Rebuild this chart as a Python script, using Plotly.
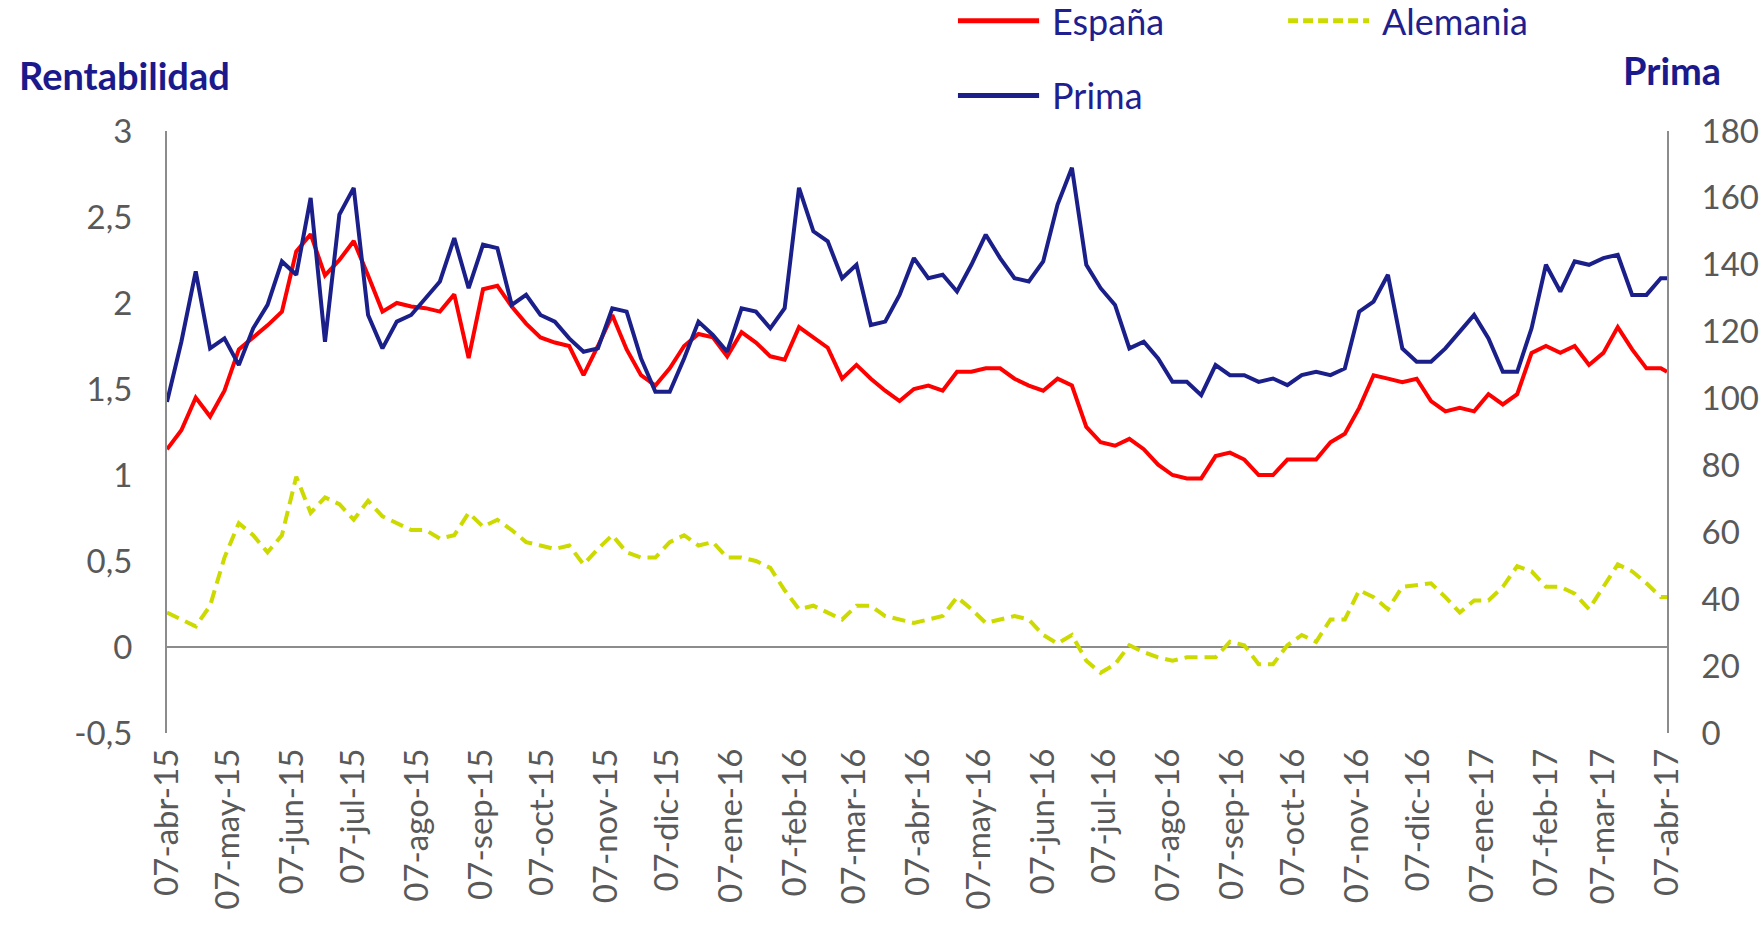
import pandas as pd
import plotly.graph_objects as go

# Weekly observations, 07-abr-2015 .. 07-abr-2017 (last point is the final day)
fechas = list(pd.date_range("2015-04-07", periods=105, freq="7D")) + [pd.Timestamp("2017-04-07")]

# Rentabilidad del bono a 10 años (%)
espana = [
    1.15, 1.26, 1.45, 1.34, 1.49, 1.73, 1.80, 1.87, 1.95, 2.30,
    2.40, 2.16, 2.25, 2.36, 2.16, 1.95, 2.00, 1.98, 1.97, 1.95,
    2.05, 1.68, 2.08, 2.10, 1.98, 1.88, 1.80, 1.77, 1.75, 1.58,
    1.75, 1.93, 1.73, 1.58, 1.52, 1.62, 1.75, 1.82, 1.80, 1.69,
    1.83, 1.77, 1.69, 1.67, 1.86, 1.80, 1.74, 1.56, 1.64, 1.56,
    1.49, 1.43, 1.50, 1.52, 1.49, 1.60, 1.60, 1.62, 1.62, 1.56,
    1.52, 1.49, 1.56, 1.52, 1.28, 1.19, 1.17, 1.21, 1.15, 1.06,
    1.00, 0.98, 0.98, 1.11, 1.13, 1.09, 1.00, 1.00, 1.09, 1.09,
    1.09, 1.19, 1.24, 1.39, 1.58, 1.56, 1.54, 1.56, 1.43, 1.37,
    1.39, 1.37, 1.47, 1.41, 1.47, 1.71, 1.75, 1.71, 1.75, 1.64,
    1.71, 1.86, 1.73, 1.62, 1.62, 1.60,
]
alemania = [
    0.20, 0.16, 0.12, 0.24, 0.52, 0.72, 0.65, 0.55, 0.65, 0.99,
    0.78, 0.87, 0.83, 0.74, 0.85, 0.76, 0.72, 0.68, 0.68, 0.63,
    0.65, 0.78, 0.70, 0.74, 0.68, 0.61, 0.59, 0.57, 0.59, 0.48,
    0.57, 0.65, 0.55, 0.52, 0.52, 0.61, 0.65, 0.59, 0.61, 0.52,
    0.52, 0.50, 0.46, 0.33, 0.22, 0.24, 0.20, 0.16, 0.24, 0.24,
    0.18, 0.16, 0.14, 0.16, 0.18, 0.29, 0.22, 0.14, 0.16, 0.18,
    0.16, 0.07, 0.02, 0.07, -0.08, -0.15, -0.10, 0.01, -0.03, -0.06,
    -0.08, -0.06, -0.06, -0.06, 0.03, 0.01, -0.10, -0.10, 0.01, 0.07,
    0.03, 0.16, 0.16, 0.33, 0.29, 0.22, 0.35, 0.36, 0.37, 0.29,
    0.20, 0.27, 0.27, 0.35, 0.47, 0.44, 0.35, 0.35, 0.31, 0.22,
    0.35, 0.48, 0.44, 0.37, 0.29, 0.29,
]
# Prima de riesgo (puntos básicos)
prima = [
    99, 117, 138, 115, 118, 110, 121, 128, 141, 137,
    160, 117, 155, 163, 125, 115, 123, 125, 130, 135,
    148, 133, 146, 145, 128, 131, 125, 123, 118, 114,
    115, 127, 126, 112, 102, 102, 112, 123, 119, 114,
    127, 126, 121, 127, 163, 150, 147, 136, 140, 122,
    123, 131, 142, 136, 137, 132, 140, 149, 142, 136,
    135, 141, 158, 169, 140, 133, 128, 115, 117, 112,
    105, 105, 101, 110, 107, 107, 105, 106, 104, 107,
    108, 107, 109, 126, 129, 137, 115, 111, 111, 115,
    120, 125, 118, 108, 108, 121, 140, 132, 141, 140,
    142, 143, 131, 131, 136, 136,
]

# Axis ticks
meses = ["abr", "may", "jun", "jul", "ago", "sep", "oct", "nov", "dic", "ene", "feb", "mar"]
ticks_x = list(pd.date_range("2015-04-01", "2017-04-01", freq="MS") + pd.Timedelta(days=6))
etiquetas_x = [f"07-{meses[(t.month - 4) % 12]}-{t.strftime('%y')}" for t in ticks_x]
ticks_izq = [-0.5, 0, 0.5, 1, 1.5, 2, 2.5, 3]
etiquetas_izq = ["-0,5", "0", "0,5", "1", "1,5", "2", "2,5", "3"]
ticks_der = [0, 20, 40, 60, 80, 100, 120, 140, 160, 180]

ROJO = "#FF0000"
AZUL = "#1B1F8A"
VERDE = "#CCDA00"
GRIS = "#8C8C8C"
TEXTO = "#595959"
TEXTO_LEYENDA = "#1F1F8F"
FUENTE = "Lato, 'Open Sans', sans-serif"

series = [
    dict(nombre="España", y=espana, eje="y", linea=dict(color=ROJO, width=4)),
    dict(nombre="Alemania", y=alemania, eje="y", linea=dict(color=VERDE, width=4, dash="13px,7px")),
    dict(nombre="Prima", y=prima, eje="y2", linea=dict(color=AZUL, width=4)),
]

fig = go.Figure()
for s in series:
    fig.add_trace(go.Scatter(x=fechas, y=s["y"], name=s["nombre"], mode="lines",
                             line=s["linea"], yaxis=s["eje"], showlegend=False))

# Legend block above the plot: a long sample line followed by the series name
# (paper coordinates: x0, x1 of the sample line, x of the text, y of the row)
leyenda = [
    ("España", dict(color=ROJO, width=5), 0.5273, 0.5814, 0.5887, 1.183),
    ("Alemania", dict(color=VERDE, width=5, dash="10px,5px"), 0.7474, 0.8014, 0.8087, 1.183),
    ("Prima", dict(color=AZUL, width=5), 0.5273, 0.5814, 0.5887, 1.059),
]
shapes, annotations = [], []
for nombre, linea, x0, x1, xt, yy in leyenda:
    shapes.append(dict(type="line", xref="paper", yref="paper", x0=x0, x1=x1, y0=yy, y1=yy,
                       line=linea, layer="above"))
    annotations.append(dict(text=nombre, xref="paper", yref="paper", x=xt, y=yy,
                            xanchor="left", yanchor="middle", showarrow=False,
                            font=dict(family=FUENTE, size=36, color=TEXTO_LEYENDA)))

annotations += [
    dict(text="<b>Rentabilidad</b>", xref="paper", yref="paper", x=-0.0282, y=1.0923,
         xanchor="center", yanchor="middle", showarrow=False,
         font=dict(family=FUENTE, size=38, color="#1A1A8C")),
    dict(text="<b>Prima</b>", xref="paper", yref="paper", x=1.0035, y=1.1006,
         xanchor="center", yanchor="middle", showarrow=False,
         font=dict(family=FUENTE, size=38, color="#1A1A8C")),
]

fig.update_layout(
    width=1762, height=926,
    margin=dict(l=167, r=95, t=131, b=193, autoexpand=False),
    paper_bgcolor="white", plot_bgcolor="white",
    font=dict(family=FUENTE, size=33, color=TEXTO),
    showlegend=False,
    xaxis=dict(
        range=[pd.Timestamp("2015-04-07"), pd.Timestamp("2017-04-07")],
        tickvals=ticks_x, ticktext=etiquetas_x, tickangle=-90,
        showgrid=False, showline=False, zeroline=False, ticks="",
        ticklabelstandoff=8, automargin=False,
        tickfont=dict(family=FUENTE, size=33, color=TEXTO),
    ),
    yaxis=dict(
        range=[-0.5, 3], tickvals=ticks_izq, ticktext=etiquetas_izq,
        showgrid=False, showline=True, linecolor=GRIS, linewidth=2,
        zeroline=True, zerolinecolor=GRIS, zerolinewidth=2, ticks="",
        ticklabelstandoff=26, automargin=False,
        tickfont=dict(family=FUENTE, size=33, color=TEXTO),
    ),
    yaxis2=dict(
        range=[0, 180], tickvals=ticks_der, overlaying="y", side="right",
        showgrid=False, showline=True, linecolor=GRIS, linewidth=2,
        zeroline=False, ticks="", ticklabelstandoff=26, automargin=False,
        tickfont=dict(family=FUENTE, size=33, color=TEXTO),
    ),
    shapes=shapes,
    annotations=annotations,
)

fig.write_html("out.html")
